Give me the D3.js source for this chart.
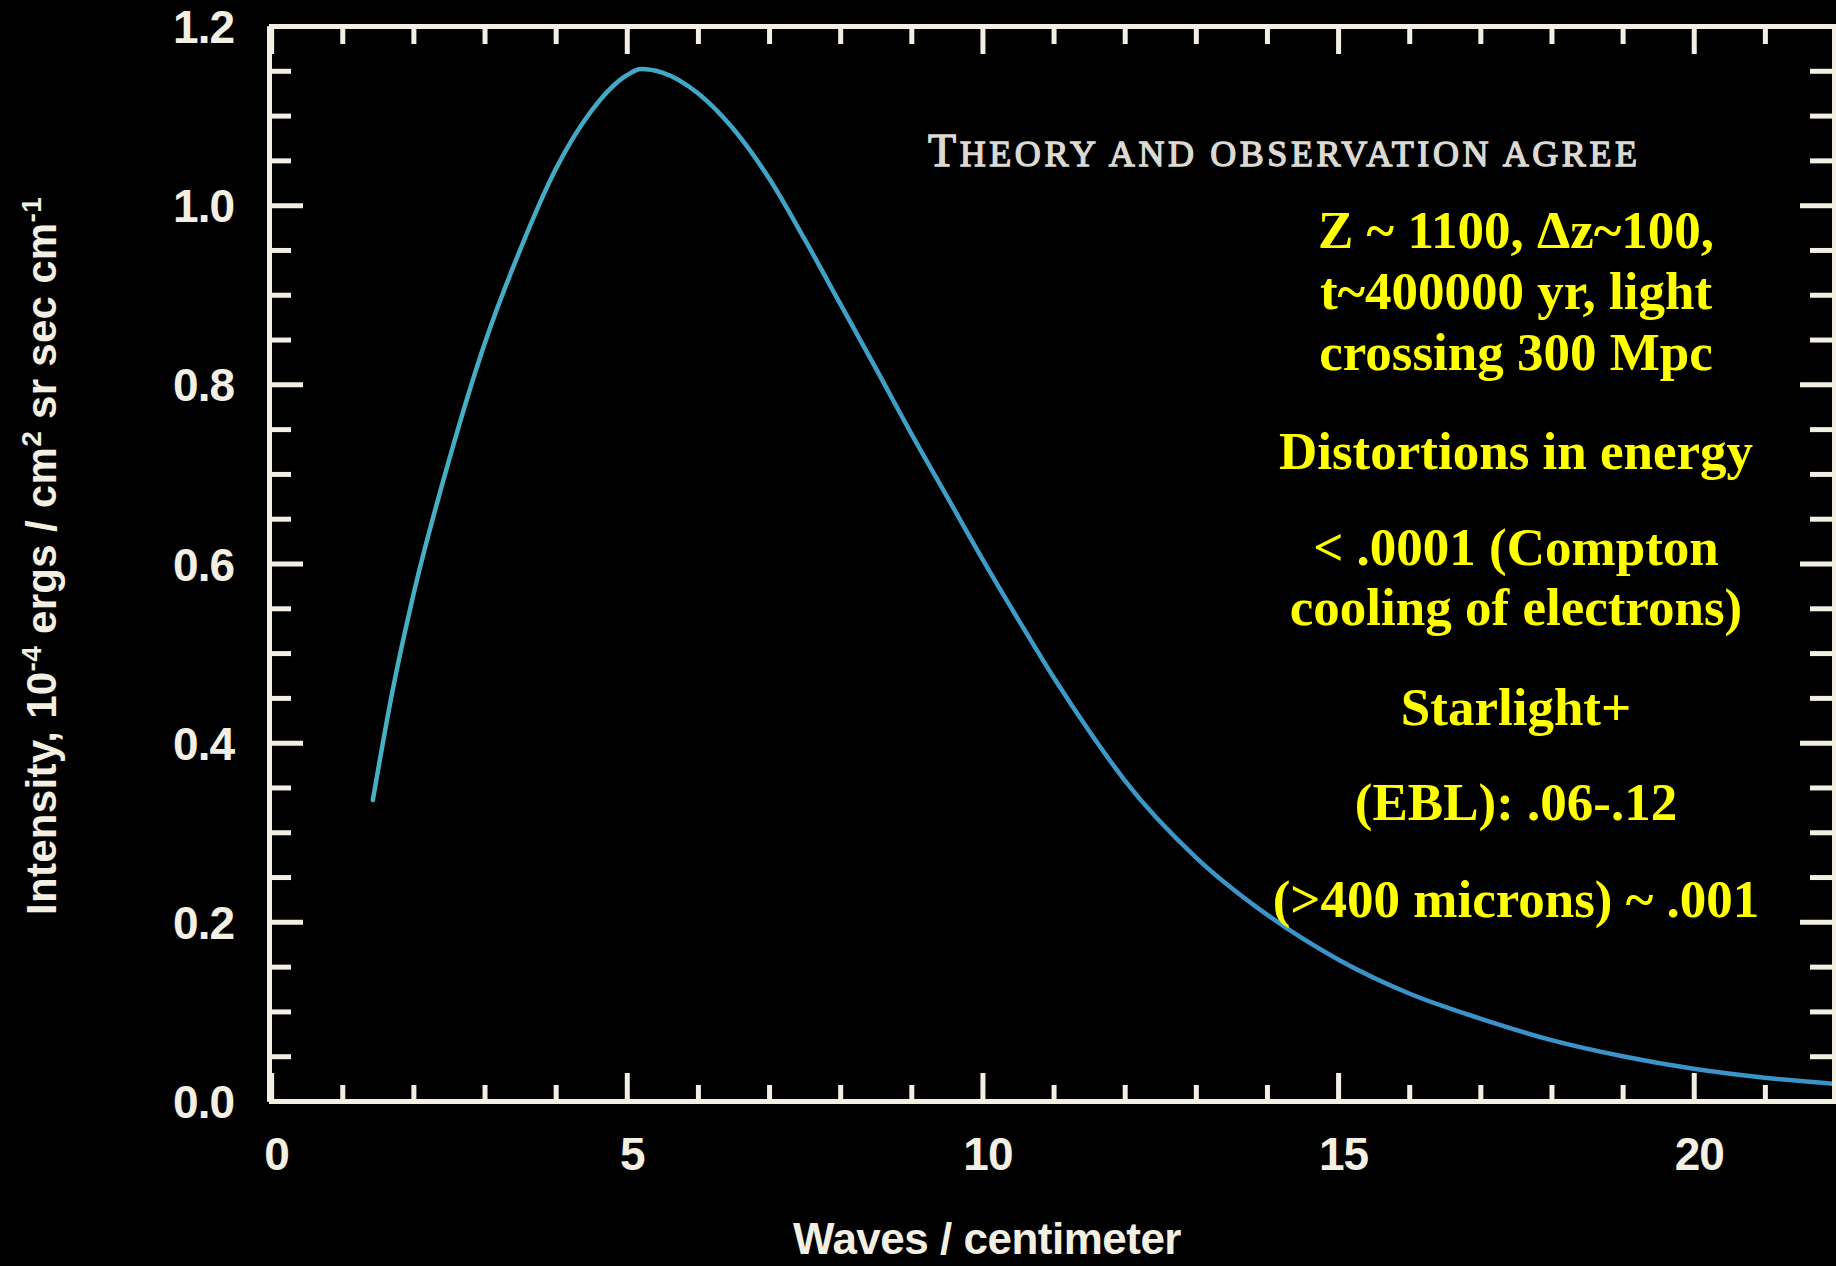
<!DOCTYPE html>
<html>
<head>
<meta charset="utf-8">
<script src="https://cdn.jsdelivr.net/npm/d3@7"></script>
<style>
  html, body { margin: 0; padding: 0; background: #000; overflow: hidden; }
  svg { display: block; }
</style>
</head>
<body>
<script>
//panel size
var w = 1836, h = 1266;

//curve: wave number (1/cm) and intensity (1e-4 ergs / cm2 sr sec cm-1)
var waves = [1.43, 1.7, 2.0, 2.5, 3.0, 3.5, 4.0, 4.5, 5.0, 5.2, 5.5, 6.0, 6.5, 7.0, 7.5, 8.0, 8.5,
             9.0, 9.5, 10.0, 10.5, 11.0, 11.5, 12.0, 13.0, 14.0, 15.0, 16.0, 17.0, 18.0, 19.0, 20.0, 21.0, 22.0];
var intensity = [0.336, 0.455, 0.565, 0.715, 0.845, 0.950, 1.040, 1.105, 1.145, 1.152, 1.148, 1.125, 1.085,
                 1.030, 0.962, 0.890, 0.818, 0.745, 0.675, 0.605, 0.538, 0.473, 0.413, 0.358, 0.272, 0.208,
                 0.158, 0.120, 0.092, 0.068, 0.050, 0.036, 0.026, 0.019];

//tick values
var xMajor = [0, 5, 10, 15, 20];
var xMinor = d3.range(0, 23, 1).filter(function(v){ return v % 5 !== 0; });
var yMajor = [0, 0.2, 0.4, 0.6, 0.8, 1.0, 1.2];
var yMinor = d3.range(0.05, 1.2, 0.05).filter(function(v){ return Math.abs(v * 5 - Math.round(v * 5)) > 0.01; });

//text
var xTitle = "Waves / centimeter";
var noteLines = ["Z ~ 1100, \u0394z~100,", "t~400000 yr, light", "crossing 300 Mpc",
                 "Distortions in energy", "< .0001 (Compton", "cooling of electrons)",
                 "Starlight+", "(EBL): .06-.12", "(>400 microns) ~ .001"];
var noteBaselines = [248, 309, 370, 469, 565, 625, 725, 820, 917];

window.onload = function(){

    var axisColor = "#f3efe2";

    var svg = d3.select("body").append("svg")
        .attr("width", w)
        .attr("height", h)
        .attr("class", "container")
        .style("background-color", "#000");

    var x = d3.scaleLinear().domain([-0.03, 22.0]).range([269, 1836]);
    var y = d3.scaleLinear().domain([0, 1.2]).range([1101, 26]);

    //gradient for the curve, more cyan on the left
    var grad = svg.append("defs").append("linearGradient")
        .attr("id", "curveGrad")
        .attr("gradientUnits", "userSpaceOnUse")
        .attr("x1", x(1)).attr("x2", x(14)).attr("y1", 0).attr("y2", 0);
    grad.append("stop").attr("offset", "0%").attr("stop-color", "#46b2c2");
    grad.append("stop").attr("offset", "100%").attr("stop-color", "#3a93c9");

    // ** curve **
    var pts = waves.map(function(d, i){ return [d, intensity[i]]; });
    var line = d3.line()
        .x(function(d){ return x(d[0]); })
        .y(function(d){ return y(d[1]); })
        .curve(d3.curveMonotoneX);

    svg.append("path")
        .datum(pts)
        .attr("class", "curve")
        .attr("d", line)
        .style("fill", "none")
        .style("stroke", "url(#curveGrad)")
        .style("stroke-width", 4.5)
        .style("stroke-linecap", "round");

    // ** axes, ticks pointing inward **
    function styleAxis(g){
        g.selectAll("path, line")
            .style("stroke", axisColor)
            .style("stroke-width", 5);
        g.selectAll("text")
            .style("fill", axisColor)
            .style("font-family", "'Liberation Sans', Arial, sans-serif")
            .style("font-weight", "bold")
            .style("font-size", "46px")
            .style("letter-spacing", "-1px");
    }

    //bottom
    svg.append("g").attr("class", "axis xMinor")
        .attr("transform", "translate(0," + y(0) + ")")
        .call(d3.axisBottom(x).tickValues(xMinor).tickSizeInner(-16).tickSizeOuter(0).tickFormat(""))
        .call(styleAxis);
    svg.append("g").attr("class", "axis xMajor")
        .attr("transform", "translate(0," + y(0) + ")")
        .call(d3.axisBottom(x).tickValues(xMajor).tickSizeInner(-28).tickSizeOuter(0).tickPadding(36).tickFormat(d3.format("d")))
        .call(styleAxis)
        .selectAll("text").attr("dx", 5);

    //top
    svg.append("g").attr("class", "axis topMinor")
        .attr("transform", "translate(0," + y(1.2) + ")")
        .call(d3.axisTop(x).tickValues(xMinor).tickSizeInner(-18).tickSizeOuter(0).tickFormat(""))
        .call(styleAxis);
    svg.append("g").attr("class", "axis topMajor")
        .attr("transform", "translate(0," + y(1.2) + ")")
        .call(d3.axisTop(x).tickValues(xMajor).tickSizeInner(-28).tickSizeOuter(0).tickFormat(""))
        .call(styleAxis);

    //left
    svg.append("g").attr("class", "axis yMinor")
        .attr("transform", "translate(" + x.range()[0] + ",0)")
        .call(d3.axisLeft(y).tickValues(yMinor).tickSizeInner(-22).tickSizeOuter(0).tickFormat(""))
        .call(styleAxis);
    svg.append("g").attr("class", "axis yMajor")
        .attr("transform", "translate(" + x.range()[0] + ",0)")
        .call(d3.axisLeft(y).tickValues(yMajor).tickSizeInner(-34).tickSizeOuter(0).tickPadding(35).tickFormat(d3.format(".1f")))
        .call(styleAxis)
        .selectAll("text").attr("dy", "0.36em");

    //right, sitting on the edge of the picture
    svg.append("g").attr("class", "axis rMinor")
        .attr("transform", "translate(" + 1834 + ",0)")
        .call(d3.axisRight(y).tickValues(yMinor).tickSizeInner(-24).tickSizeOuter(0).tickFormat(""))
        .call(styleAxis);
    svg.append("g").attr("class", "axis rMajor")
        .attr("transform", "translate(" + 1834 + ",0)")
        .call(d3.axisRight(y).tickValues(yMajor).tickSizeInner(-34).tickSizeOuter(0).tickFormat(""))
        .call(styleAxis);

    // ** axis titles **
    svg.append("text")
        .attr("class", "xTitle")
        .attr("x", 987)
        .attr("y", 1254)
        .attr("text-anchor", "middle")
        .text(xTitle)
        .style("fill", axisColor)
        .style("font-family", "'Liberation Sans', Arial, sans-serif")
        .style("font-weight", "bold")
        .style("font-size", "44px")
        .style("letter-spacing", "-0.5px");

    var yTitle = svg.append("text")
        .attr("class", "yTitle")
        .attr("transform", "translate(56,556) rotate(-90)")
        .attr("text-anchor", "middle")
        .style("fill", axisColor)
        .style("font-family", "'Liberation Sans', Arial, sans-serif")
        .style("font-weight", "bold")
        .style("font-size", "42px")
        .style("letter-spacing", "0.3px");
    yTitle.append("tspan").text("Intensity, 10");
    yTitle.append("tspan").attr("dy", -15).style("font-size", "28px").text("-4");
    yTitle.append("tspan").attr("dy", 15).text(" ergs / cm");
    yTitle.append("tspan").attr("dy", -15).style("font-size", "28px").text("2");
    yTitle.append("tspan").attr("dy", 15).text(" sr sec cm");
    yTitle.append("tspan").attr("dy", -15).style("font-size", "28px").text("-1");

    // ** small caps heading **
    var head = svg.append("text")
        .attr("class", "heading")
        .attr("x", 928)
        .attr("y", 166)
        .attr("textLength", 709)
        .attr("lengthAdjust", "spacing")
        .style("fill", "#dcdad2")
        .style("stroke", "#dcdad2")
        .style("stroke-width", 1.3)
        .style("font-family", "'Liberation Serif', 'Times New Roman', serif");
    head.append("tspan").style("font-size", "46px").text("T");
    head.append("tspan").style("font-size", "36px").text("HEORY AND OBSERVATION AGREE");

    // ** yellow notes **
    svg.selectAll(".notes")
        .data(noteLines)
        .enter()
        .append("text")
        .attr("class", "notes")
        .attr("x", 1516)
        .attr("y", function(d, i){ return noteBaselines[i]; })
        .attr("text-anchor", "middle")
        .text(function(d){ return d; })
        .style("fill", "#ffff00")
        .style("font-family", "'Liberation Serif', 'Times New Roman', serif")
        .style("font-weight", "bold")
        .style("font-size", "53px");
};
</script>
</body>
</html>
